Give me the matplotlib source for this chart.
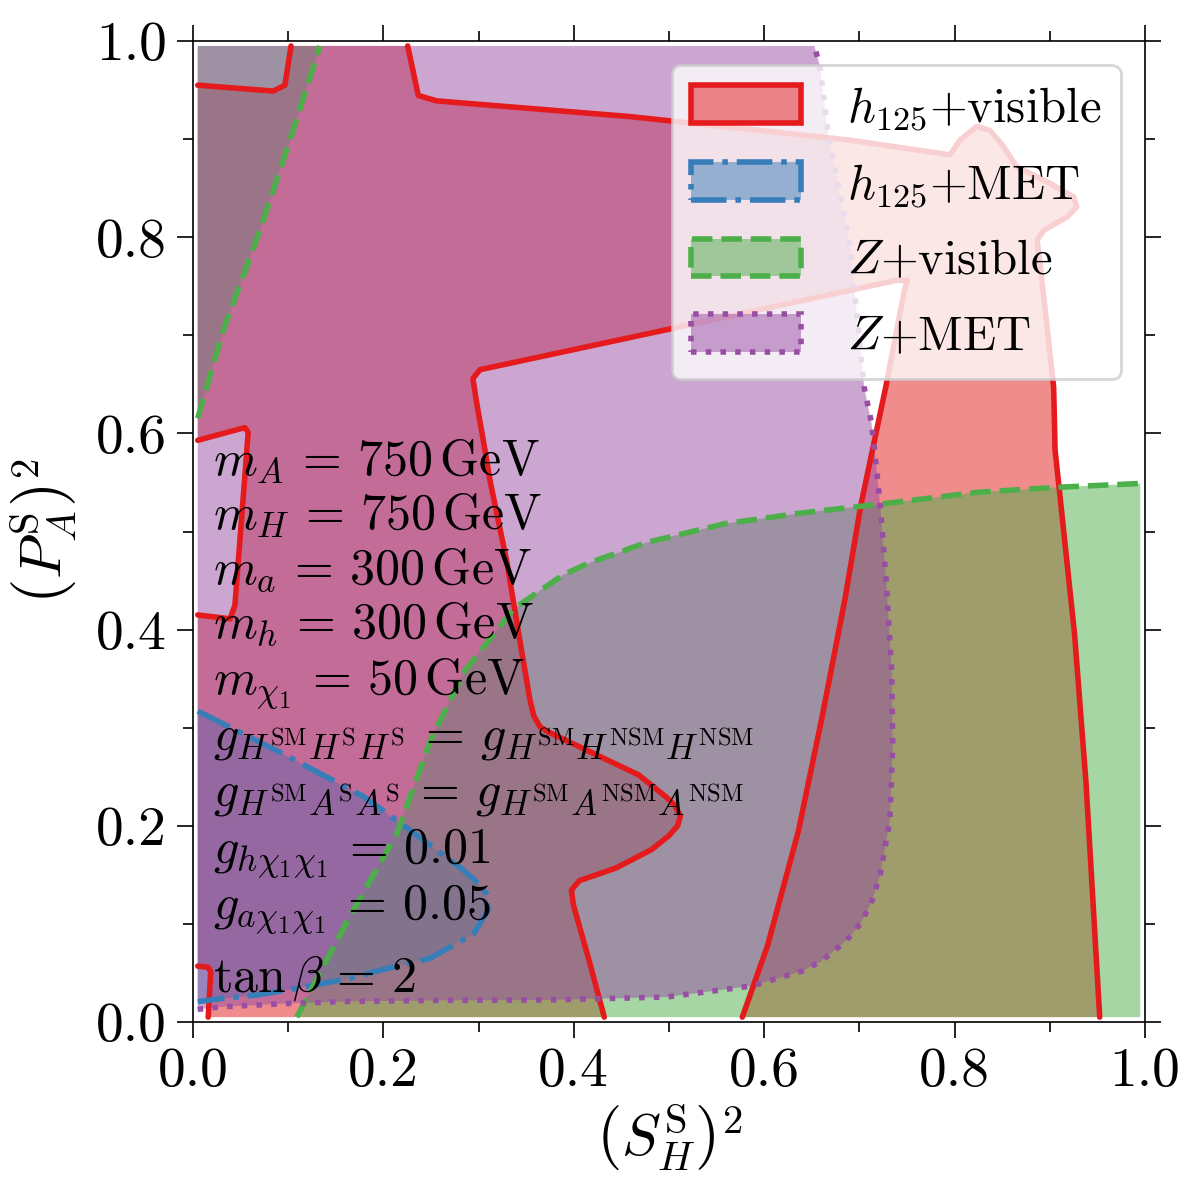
import numpy as np
import matplotlib.pyplot as plt
from matplotlib.patches import Patch
from matplotlib.colors import to_rgba
from matplotlib.ticker import MultipleLocator

plt.rcParams['font.family'] = 'serif'
plt.rcParams['font.serif'] = ['cmr10']
plt.rcParams['mathtext.fontset'] = 'cm'
plt.rcParams['axes.formatter.use_mathtext'] = True
plt.rcParams['font.size'] = 20
plt.rcParams['axes.linewidth'] = 0.6

# grid edges of the scan
lo, hi = 0.005, 0.995

# contour lines, (x, y) = ((S_H^S)^2, (P_A^S)^2)
red_a = [(0.005, 0.955), (0.0844, 0.949), (0.0966, 0.955), (0.103, 0.995)]
red_b = [(0.005, 0.593), (0.0546, 0.606), (0.058, 0.601), (0.0441, 0.425),
         (0.0389, 0.411), (0.005, 0.415)]
red_c = [(0.005, 0.057), (0.016, 0.0558), (0.0186, 0.0513), (0.016, 0.005)]
red_d = [(0.432, 0.005), (0.416, 0.063), (0.3995, 0.1197), (0.3975, 0.1345),
         (0.4056, 0.144), (0.4443, 0.157), (0.482, 0.176), (0.500, 0.190),
         (0.509, 0.200), (0.512, 0.210), (0.506, 0.221), (0.4975, 0.229),
         (0.468, 0.252), (0.416, 0.276), (0.3725, 0.296), (0.3645, 0.301),
         (0.358, 0.312), (0.354, 0.328), (0.3435, 0.388), (0.3295, 0.470),
         (0.312, 0.552), (0.3067, 0.583), (0.298, 0.631), (0.294, 0.656),
         (0.3015, 0.665), (0.739, 0.756), (0.750, 0.756), (0.7465, 0.742),
         (0.7276, 0.647), (0.7137, 0.583), (0.7015, 0.527), (0.685, 0.432),
         (0.661, 0.312), (0.636, 0.195), (0.6036, 0.0783), (0.577, 0.005)]
red_e = [(0.9524, 0.005), (0.938, 0.244), (0.926, 0.395), (0.9097, 0.545),
         (0.9055, 0.583), (0.904, 0.647), (0.897, 0.709), (0.890, 0.770),
         (0.8866, 0.797), (0.8935, 0.807), (0.918, 0.8205), (0.9283, 0.831),
         (0.925, 0.841), (0.900, 0.855), (0.865, 0.872), (0.851, 0.893),
         (0.837, 0.909), (0.8232, 0.913), (0.8057, 0.899), (0.795, 0.884),
         (0.690, 0.899), (0.459, 0.923), (0.256, 0.939), (0.2367, 0.9445),
         (0.2255, 0.995)]

blue_line = [(0.005, 0.317), (0.0914, 0.275), (0.1789, 0.230), (0.2316, 0.193),
             (0.284, 0.155), (0.300, 0.141), (0.3085, 0.1305), (0.310, 0.114),
             (0.2945, 0.0897), (0.249, 0.065), (0.1964, 0.0527), (0.165, 0.0445),
             (0.137, 0.0394), (0.109, 0.0343), (0.067, 0.0275), (0.0318, 0.0242),
             (0.005, 0.0207)]

green_top = [(0.005, 0.6154), (0.0318, 0.705), (0.0704, 0.807),
             (0.1019, 0.899), (0.1334, 0.995)]
green_bot = [(0.109, 0.005), (0.1614, 0.102), (0.214, 0.192), (0.249, 0.286),
             (0.284, 0.356), (0.3365, 0.421), (0.389, 0.456), (0.416, 0.468),
             (0.477, 0.489), (0.5586, 0.508), (0.640, 0.519), (0.722, 0.528),
             (0.824, 0.540), (0.9055, 0.545), (0.995, 0.549)]

purple_line = [(0.005, 0.013), (0.0318, 0.0156), (0.067, 0.0173), (0.1019, 0.019),
               (0.165, 0.021), (0.25, 0.022), (0.375, 0.0225), (0.416, 0.0235),
               (0.4975, 0.0255), (0.587, 0.0368), (0.640, 0.052), (0.66, 0.062),
               (0.677, 0.0755), (0.69, 0.087), (0.7015, 0.101), (0.713, 0.123),
               (0.7218, 0.150), (0.732, 0.206), (0.735, 0.282), (0.734, 0.357),
               (0.728, 0.451), (0.7218, 0.527), (0.716, 0.583), (0.7126, 0.611),
               (0.705, 0.647), (0.690, 0.793), (0.6677, 0.902), (0.6583, 0.975),
               (0.6527, 0.995)]

labels = [r'$h_{125}$+visible', r'$h_{125}$+MET', r'$Z$+visible', r'$Z$+MET']
colors = ['#e41a1c', '#377eb8', '#4daf4a', '#984ea3']
styles = ['-', '-.', '--', ':']

info = [r'$m_A\,=\,750\,\mathrm{GeV}$',
        r'$m_H\,=\,750\,\mathrm{GeV}$',
        r'$m_a\,=\,300\,\mathrm{GeV}$',
        r'$m_h\,=\,300\,\mathrm{GeV}$',
        r'$m_{\chi_1}\,=\,50\,\mathrm{GeV}$',
        r'$g_{H^{\mathrm{SM}}H^{\mathrm{S}}H^{\mathrm{S}}}\,=\,g_{H^{\mathrm{SM}}H^{\mathrm{NSM}}H^{\mathrm{NSM}}}$',
        r'$g_{H^{\mathrm{SM}}A^{\mathrm{S}}A^{\mathrm{S}}}\,=\,g_{H^{\mathrm{SM}}A^{\mathrm{NSM}}A^{\mathrm{NSM}}}$',
        r'$g_{h\chi_1\chi_1}\,=\,0.01$',
        r'$g_{a\chi_1\chi_1}\,=\,0.05$',
        r'$\tan\beta\,=\,2$']
info_y = [0.5586, 0.503, 0.4475, 0.392, 0.335, 0.2768, 0.2197, 0.1626, 0.1055, 0.031]

# regions = lines closed along the grid edges
red_poly = red_d + red_e + red_a[::-1] + red_b + red_c
blue_poly = blue_line
green_polys = [green_top + [(lo, hi)], green_bot + [(hi, lo)]]
purple_poly = purple_line + [(lo, hi)]

region_polys = [[red_poly], [blue_poly], green_polys, [purple_poly]]
region_lines = [[red_a, red_b, red_c, red_d, red_e], [blue_line],
                [green_top, green_bot], [purple_line]]

fig = plt.figure(figsize=(6, 6), dpi=200)
ax = fig.add_axes([0.1608, 0.1483, 0.7934, 0.8175])

for polys, c in zip(region_polys, colors):
    for p in polys:
        p = np.array(p)
        ax.fill(p[:, 0], p[:, 1], color=c, alpha=0.5, lw=0)

for lines, c, ls in zip(region_lines, colors, styles):
    for l in lines:
        l = np.array(l)
        ax.plot(l[:, 0], l[:, 1], color=c, ls=ls, lw=2,
                solid_joinstyle='round', solid_capstyle='round')

for t, yy in zip(info, info_y):
    ax.text(0.021, yy, t, transform=ax.transAxes, va='baseline', ha='left',
            fontsize=18, zorder=10)

handles = [Patch(facecolor=to_rgba(c, 0.5), edgecolor=c, linestyle=ls, lw=2)
           for c, ls in zip(colors, styles)]
ax.legend(handles, labels, loc='upper right', fontsize=17.5,
          handlelength=2.26, handleheight=0.8, handletextpad=0.95,
          labelspacing=0.62)

ax.set_xlim(0, 1)
ax.set_ylim(0, 1)
ax.set_xticks(np.arange(0, 1.01, 0.2))
ax.set_yticks(np.arange(0, 1.01, 0.2))
ax.set_xticklabels(['%.1f' % v for v in np.arange(0, 1.01, 0.2)])
ax.set_yticklabels(['%.1f' % v for v in np.arange(0, 1.01, 0.2)])
ax.xaxis.set_minor_locator(MultipleLocator(0.1))
ax.yaxis.set_minor_locator(MultipleLocator(0.1))
ax.tick_params(which='both', direction='out', top=True, right=True, width=0.6)
ax.tick_params(which='major', length=5.8, labelsize=20)
ax.tick_params(which='minor', length=3.6)

ax.set_xlabel(r'$\left(S_H^{\mathrm{S}}\right)^2$', fontsize=21, labelpad=2)
ax.set_ylabel(r'$\left(P_A^{\mathrm{S}}\right)^2$', fontsize=21, labelpad=6)

fig.savefig('out.png', dpi=200)
